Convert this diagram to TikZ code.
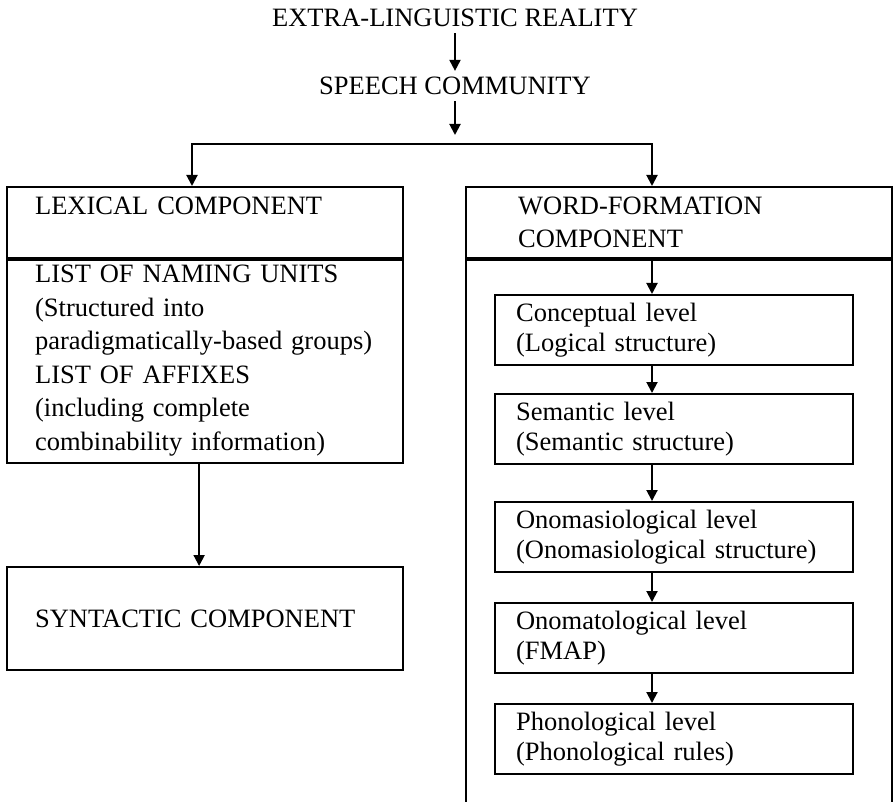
\documentclass[tikz,border=0pt]{standalone}
\usepackage{fontspec}
\setmainfont{Liberation Serif}
\usetikzlibrary{arrows.meta}

\tikzset{
    title/.style={inner sep=6pt, font=\fontsize{26.5}{33}\selectfont},
    bigbox/.style={draw, line width=2.2pt, rectangle, anchor=north west, align=left,
        inner xsep=28pt, text width=340pt, font=\fontsize{26.5}{33.5}\selectfont},
    wfbox/.style={bigbox, inner xsep=52pt, text width=322pt},
    levelbox/.style={draw, line width=2.2pt, rectangle, anchor=north west, align=left,
        inner xsep=21pt, text width=316pt, minimum height=70pt, font=\fontsize{26.5}{30}\selectfont},
    divider/.style={line width=4.5pt},
    arr/.style={-{Triangle[length=11pt, width=11pt]}, line width=2pt}
}

\begin{document}
\begin{tikzpicture}[x=1pt, y=-1pt]
    \useasboundingbox (0,0) rectangle (894,802);

    % Top of the chain
    \node[title] (extra) at (455,18) {EXTRA-LINGUISTIC REALITY};
    \node[title] (speech) at (455,86) {SPEECH COMMUNITY};
    \coordinate (split) at (455,135);
    \coordinate (forkL) at (192,144);
    \coordinate (forkR) at (652,144);

    % Lexical side
    \node[bigbox, minimum height=71pt] (lexhead) at (6,186) {LEXICAL COMPONENT\\\mbox{}};
    \node[bigbox, minimum height=205pt] (lexlist) at (6,257) {LIST OF NAMING UNITS\\(Structured into\\paradigmatically-based groups)\\LIST OF AFFIXES\\(including complete\\combinability information)};
    \draw[divider] (lexhead.south west) -- (lexhead.south east);
    \node[bigbox, minimum height=103pt] (syntactic) at (6,566) {SYNTACTIC COMPONENT};

    % Word-formation side
    \node[wfbox, minimum height=71pt] (wordhead) at (465,186) {WORD-FORMATION\\COMPONENT};
    \node[draw, line width=2.2pt, rectangle, anchor=north west, minimum width=426pt, minimum height=600pt] (wordbody) at (465,257) {};
    \draw[divider] (wordhead.south west) -- (wordhead.south east);

    \node[levelbox] (concept) at (494,294) {Conceptual level\\(Logical structure)};
    \node[levelbox] (semantic) at (494,393) {Semantic level\\(Semantic structure)};
    \node[levelbox] (onomasio) at (494,501) {Onomasiological level\\(Onomasiological structure)};
    \node[levelbox] (onomato) at (494,602) {Onomatological level\\(FMAP)};
    \node[levelbox] (phono) at (494,703) {Phonological level\\(Phonological rules)};

    % Arrows
    \draw[arr] (extra) -- (speech);
    \draw[arr] (speech) -- (split);
    \draw[arr] (forkR) -| (forkL |- lexhead.north);
    \draw[arr] (forkL) -| (forkR |- wordhead.north);
    \draw[arr] ([xshift=-6pt]lexlist.south) -- ([xshift=-6pt]syntactic.north);
    \draw[arr] (forkR |- wordhead.south) -- (forkR |- concept.north);
    \foreach \a/\b in {concept/semantic, semantic/onomasio, onomasio/onomato, onomato/phono}
        \draw[arr] (forkR |- \a.south) -- (forkR |- \b.north);
\end{tikzpicture}
\end{document}
